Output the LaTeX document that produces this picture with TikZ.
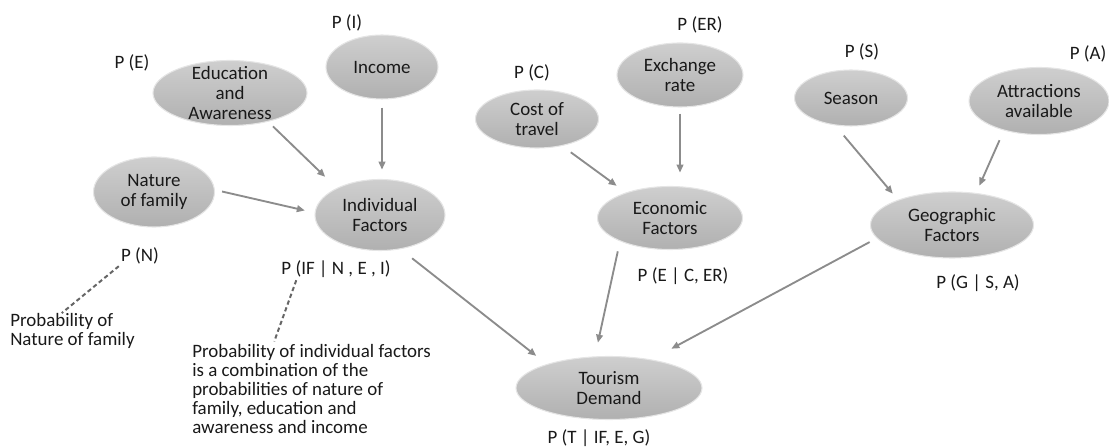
\documentclass[tikz,border=0pt]{standalone}
\usepackage{fontspec}
\setmainfont{Carlito}
\usetikzlibrary{arrows.meta,shapes.geometric}
\begin{document}
\begin{tikzpicture}[x=0.75pt,y=-0.75pt,
  ell/.style={ellipse,inner sep=0pt,draw=black!10,line width=0.8pt,
    top color=black!19,bottom color=black!31},
  etxt/.style={align=center,inner sep=0pt,text=black!90,font=\fontsize{14.2}{15}\selectfont},
  lab/.style={inner sep=0pt,text=black!90,font=\fontsize{14.2}{15}\selectfont},
  note/.style={inner sep=0pt,align=left,text=black!90,font=\fontsize{14.2}{14.3}\selectfont},
  arr/.style={draw=black!45,line width=1.4pt,-{Triangle[length=6pt,width=5pt]}},
  dsh/.style={draw=black!60,line width=1.5pt,dash pattern=on 3.2pt off 2.2pt}]
\useasboundingbox (0,0) rectangle (1109,448);

% ellipses
\node[ell,minimum width=115.5pt,minimum height=48.75pt,label={[etxt]center:Education\\and\\Awareness}] (edu) at (230,93) {};
\node[ell,minimum width=84pt,minimum height=48pt,label={[etxt]center:Income}] (inc) at (382,67) {};
\node[ell,minimum width=90.75pt,minimum height=52.5pt,label={[etxt]center:Nature\\of family}] (nat) at (154,192) {};
\node[ell,minimum width=97.5pt,minimum height=53.25pt,label={[etxt]center:Individual\\Factors}] (ind) at (380,215) {};
\node[ell,minimum width=92.25pt,minimum height=43.5pt,label={[etxt]center:Cost of\\travel}] (cost) at (537,119) {};
\node[ell,minimum width=94.5pt,minimum height=48pt,label={[etxt]center:Exchange\\rate}] (exch) at (680,75) {};
\node[ell,minimum width=108.75pt,minimum height=47.25pt,label={[etxt]center:Economic\\Factors}] (econ) at (670,218) {};
\node[ell,minimum width=84.75pt,minimum height=42pt,label={[etxt]center:Season}] (seas) at (851,98) {};
\node[ell,minimum width=105pt,minimum height=50.25pt,label={[etxt]center:Attractions\\available}] (attr) at (1039,101) {};
\node[ell,minimum width=122.25pt,minimum height=49.5pt,label={[etxt]center:Geographic\\Factors}] (geo) at (952,225) {};
\node[ell,minimum width=139.5pt,minimum height=47.25pt,label={[etxt]center:Tourism\\Demand}] (tour) at (609,388) {};

% probability labels
\node[lab] (pE) at (132,63) {P (E)};
\node[lab] (pI) at (347,23) {P (I)};
\node[lab] (pN) at (140,256) {P (N)};
\node[lab] (pIF) at (336,269) {P (IF | N , E , I)};
\node[lab] (pC) at (532,73) {P (C)};
\node[lab] (pER) at (700,25) {P (ER)};
\node[lab] (pEc) at (683,276) {P (E | C, ER)};
\node[lab] (pS) at (862,52) {P (S)};
\node[lab] (pA) at (1088,54) {P (A)};
\node[lab] (pG) at (978,283) {P (G | S, A)};
\node[lab] (pT) at (599,438) {P (T | IF, E, G)};

% notes
\node[note,anchor=west] (n1) at (10,331) {Probability of\\Nature of family};
\node[note,anchor=west] (n2) at (192,389) {Probability of individual factors\\is a combination of the\\probabilities of nature of\\family, education and\\awareness and income};

% dashed connectors
\draw[dsh,shorten <=2pt] (pN.south west) -- ([xshift=-8pt]n1.north);
\draw[dsh,shorten <=2pt,shorten >=2pt] ([xshift=12pt]pIF.south west) -- ([xshift=61pt]n2.north west);

% arrows
\draw[arr,shorten <=5pt,shorten >=12pt] (edu.323) -- (ind.148);
\draw[arr,shorten <=6pt,shorten >=7pt] (inc.south) -- (inc.south |- ind.north);
\draw[arr,shorten <=5.5pt,shorten >=7.5pt] (nat.2) -- (ind.178);
\draw[arr,shorten <=11pt,shorten >=10pt] (ind.301) -- (tour.159);
\draw[arr,shorten <=8pt,shorten >=8.5pt] (cost.313) -- (econ.150);
\draw[arr,shorten <=4.5pt,shorten >=10pt] (exch.south) -- (exch.south |- econ.north);
\draw[arr,shorten <=7.7pt,shorten >=10.5pt] (econ.205) -- (tour.114);
\draw[arr,shorten <=10pt,shorten >=6pt] (seas.240) -- (geo.155);
\draw[arr,shorten <=8pt,shorten >=6pt] (attr.220) -- (geo.53);
\draw[arr,shorten <=6pt,shorten >=17pt] (geo.190) -- (tour.34);
\end{tikzpicture}
\end{document}
